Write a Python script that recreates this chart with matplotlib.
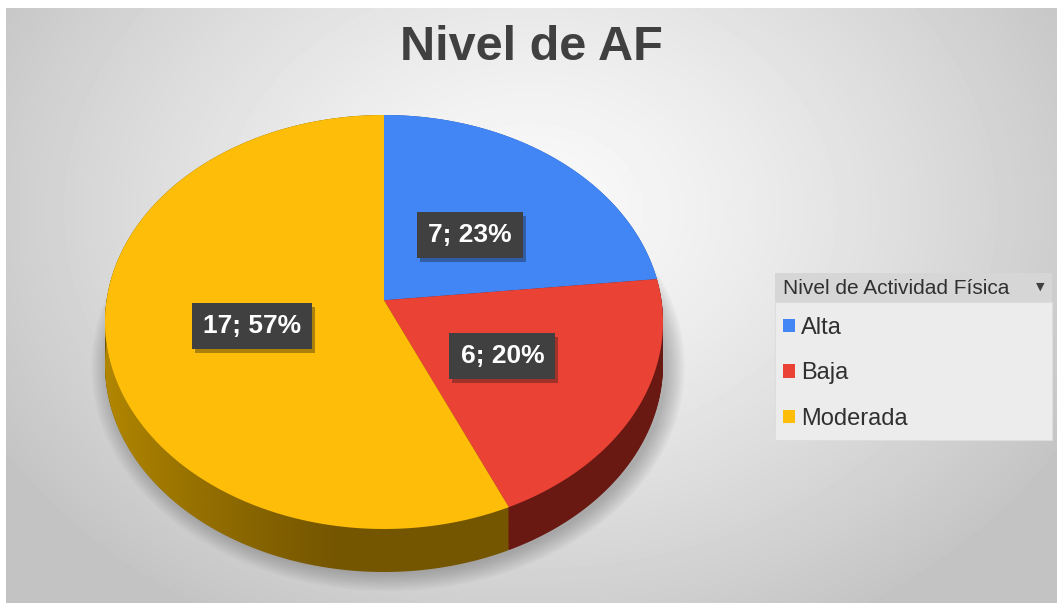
import numpy as np
import matplotlib
matplotlib.use('Agg')
import matplotlib.pyplot as plt
import matplotlib.patheffects as pe
from matplotlib.patches import Rectangle, Ellipse, Polygon
from matplotlib.colors import to_rgb

categories = ['Alta', 'Baja', 'Moderada']
counts = [7, 6, 17]
title = 'Nivel de AF'
legend_title = 'Nivel de Actividad Física'

top_colors = ['#4285f4', '#ea4335', '#fdbd08']
side_colors = ['#1f4fa0', '#6a1812', '#755600']

W, H = 1057, 603
fig = plt.figure(figsize=(W / 100, H / 100), dpi=100)

# background with radial grey gradient
bg = fig.add_axes([0, 0, 1, 1])
bg.set_xlim(0, W)
bg.set_ylim(H, 0)
bg.axis('off')
yy, xx = np.mgrid[8:H, 6:W]
d = np.sqrt(((xx - 530) / 560) ** 2 + ((yy - 210) / 430) ** 2)
img = np.clip(250 - 48 * d ** 1.3, 196, 250) / 255
bg.imshow(img, cmap='gray', vmin=0, vmax=1, extent=(6, W, H, 8),
          aspect='auto', interpolation='bilinear')

fig.text(531 / W, 1 - 47 / H, title, ha='center', va='center', fontsize=35,
         fontweight='bold', color='#404040', family='Liberation Sans')

# pie axes, stretched so the disc looks tilted
cx, cy, a, b = 384, 322, 279, 207
depth = 43 / b
x_lo, x_hi = -1.15, 1.15
y_lo, y_hi = -1 - depth - 0.25, 1.1
ax = fig.add_axes([(cx + x_lo * a) / W, (H - (cy - y_lo * b)) / H,
                   (x_hi - x_lo) * a / W, (y_hi - y_lo) * b / H])
ax.patch.set_alpha(0)

# slight perspective: far half smaller, near half bigger
c = 0.105


def project(x, y):
    s = 1 / (1 + c * y)
    return x * s * np.sqrt(1 - c ** 2), (y * s + c / (1 - c ** 2)) * (1 - c ** 2)


def reshape(w, dy=0.0):
    th = np.radians(np.linspace(w.theta1, w.theta2, 300))
    x0, y0 = w.center
    px = np.r_[x0, x0 + w.r * np.cos(th)]
    py = np.r_[y0, y0 + w.r * np.sin(th)]
    px, py = project(px, py)
    ax.add_patch(Polygon(np.column_stack([px, py - dy]), closed=True,
                         facecolor=w.get_facecolor(), edgecolor='none'))
    w.remove()


# soft shadow under the disc
for i in range(10):
    g = 0.007 * i
    ax.add_patch(Ellipse((0.015, -depth - 0.01), 2 * (1.0 + g), 2 * (1.0 + g * 1.3),
                         facecolor='#404040', edgecolor='none', alpha=0.035, zorder=0))

# side of the disc: stack of darker pies
for k in np.linspace(depth, 0, 40):
    ws, _ = ax.pie(counts, colors=side_colors, startangle=90, counterclock=False,
                   radius=1, wedgeprops=dict(linewidth=0))
    last = ws[-1]
    for w in ws:
        reshape(w, k)

# lighter shading on the left of the yellow side
th = np.radians(np.linspace(last.theta1, last.theta2, 400))
th = th[np.sin(th) < 0]
ex, ey = project(np.cos(th), np.sin(th))
side_clip = Polygon(np.r_[np.column_stack([ex, ey]), np.column_stack([ex, ey - depth])[::-1]],
                    closed=True, transform=ax.transData)
gx = np.linspace(-1, 1, 300)
shade = np.zeros((1, gx.size, 4))
shade[..., :3] = to_rgb('#d9a600')
shade[..., 3] = np.clip((-0.15 - gx) / 0.85, 0, 1) ** 1.2 * 0.6
im = ax.imshow(shade, extent=(-1, 1, -1.5, 1), aspect='auto', interpolation='bilinear', zorder=1)
im.set_clip_path(side_clip)

total = sum(counts)
wedges, texts, autotexts = ax.pie(
    counts, colors=top_colors, startangle=90, counterclock=False,
    radius=1, wedgeprops=dict(linewidth=0), pctdistance=0.48,
    autopct=lambda p: f'{round(p * total / 100)}; {p:.0f}%',
    textprops=dict(color='white', fontsize=19, fontweight='bold',
                   family='Liberation Sans'))
for w in wedges:
    reshape(w)
for t in autotexts:
    tx, ty = t.get_position()
    px, py = project(tx, ty)
    t.set_position((px, py - 0.025))
    t.set_zorder(5)
    t.set_bbox(dict(boxstyle='square,pad=0.42', facecolor='#404040', edgecolor='none'))
    t.get_bbox_patch().set_path_effects([pe.SimplePatchShadow(offset=(2, -3), alpha=0.35),
                                         pe.Normal()])

ax.set_aspect('auto')
ax.set_xlim(x_lo, x_hi)
ax.set_ylim(y_lo, y_hi)
ax.axis('off')

# legend panel
fig.patches.append(Rectangle((775, 302), 277, 138, transform=bg.transData,
                             facecolor='#ececec', edgecolor='#dddddd', lw=0.8, zorder=1))
fig.patches.append(Rectangle((775, 273), 277, 29, transform=bg.transData,
                             facecolor='#d6d6d6', edgecolor='none', zorder=1))
fig.text(783 / W, 1 - 288 / H, legend_title, ha='left', va='center', fontsize=15,
         color='#303030', family='Liberation Sans')
fig.text(1040 / W, 1 - 287 / H, '▼', ha='center', va='center', fontsize=8,
         color='#404040')

fig.legend(wedges, categories, loc='upper left', bbox_to_anchor=(783 / W, 1 - 317 / H),
           frameon=False, handlelength=0.5, handleheight=0.5, handletextpad=0.25,
           labelspacing=0.99, borderpad=0, borderaxespad=0,
           prop=dict(family='Liberation Sans', size=17), labelcolor='#303030')

fig.savefig('out.png', dpi=100)
